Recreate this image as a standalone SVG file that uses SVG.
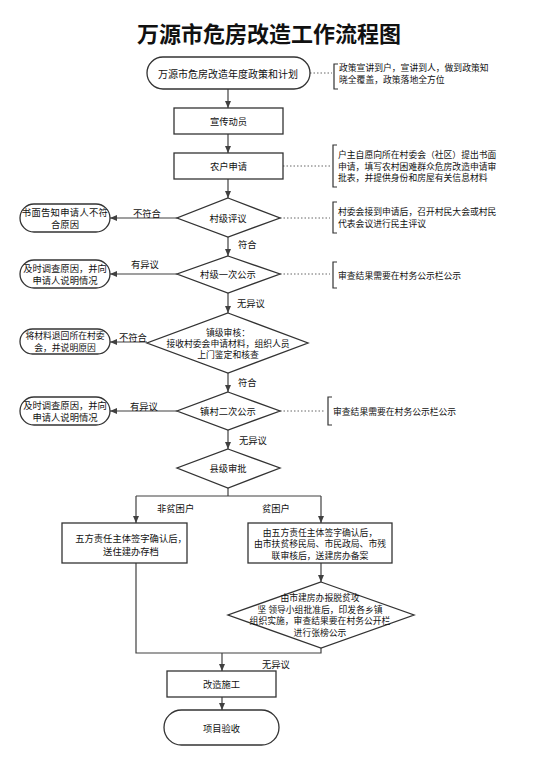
<svg xmlns="http://www.w3.org/2000/svg" width="538" height="761" viewBox="0 0 538 761">
<defs>
<marker id="arr" markerUnits="userSpaceOnUse" markerWidth="7" markerHeight="6" viewBox="0 0 7 6" refX="7" refY="3" orient="auto"><path d="M0,0 L7,3 L0,6 z" fill="#404040"/></marker>
<style>
text{font-family:"Noto Sans CJK SC","Noto Sans",sans-serif;fill:#111;dominant-baseline:central}
.t{font-size:9.3px;text-anchor:middle}
.m{font-size:8.8px;text-anchor:middle}
.n{font-size:8.8px}
.l{font-size:9.3px}
.shape{fill:#fff;stroke:#333;stroke-width:1.3}
.c{fill:none;stroke:#404040;stroke-width:1.2}
.d{fill:none;stroke:#666;stroke-width:1;stroke-dasharray:1.5,2}
.b{fill:none;stroke:#333;stroke-width:1.2}
</style>
</defs>
<rect width="538" height="761" fill="#fff"/>
<text x="269" y="32" style="font-size:22px;font-weight:bold;text-anchor:middle">万源市危房改造工作流程图</text>

<g id="connectors">
<line class="c" x1="228" y1="89" x2="228" y2="108" marker-end="url(#arr)"/>
<line class="c" x1="228" y1="134" x2="228" y2="153" marker-end="url(#arr)"/>
<line class="c" x1="228" y1="179" x2="228" y2="198" marker-end="url(#arr)"/>
<line class="c" x1="228" y1="237" x2="228" y2="256" marker-end="url(#arr)"/>
<line class="c" x1="228" y1="293" x2="228" y2="313" marker-end="url(#arr)"/>
<line class="c" x1="228" y1="373" x2="228" y2="392" marker-end="url(#arr)"/>
<line class="c" x1="228" y1="430" x2="228" y2="449" marker-end="url(#arr)"/>
<polyline class="c" points="228,488 228,496"/>
<line class="c" x1="136" y1="496" x2="321" y2="496"/>
<line class="c" x1="136" y1="496" x2="136" y2="523" marker-end="url(#arr)"/>
<line class="c" x1="321" y1="496" x2="321" y2="523" marker-end="url(#arr)"/>
<line class="c" x1="321" y1="563" x2="321" y2="582" marker-end="url(#arr)"/>
<polyline class="c" points="136,563 136,653 321,653 321,648"/>
<line class="c" x1="222" y1="653" x2="222" y2="671" marker-end="url(#arr)"/>
<line class="c" x1="222" y1="697" x2="222" y2="710" marker-end="url(#arr)"/>
<line class="c" x1="177" y1="218" x2="110" y2="218" marker-end="url(#arr)"/>
<line class="c" x1="177" y1="274" x2="110" y2="274" marker-end="url(#arr)"/>
<line class="c" x1="147" y1="342" x2="110" y2="342" marker-end="url(#arr)"/>
<line class="c" x1="177" y1="411" x2="110" y2="411" marker-end="url(#arr)"/>
<line class="d" x1="310" y1="73" x2="332" y2="73"/>
<line class="d" x1="283" y1="166" x2="330" y2="166"/>
<line class="d" x1="280" y1="218" x2="330" y2="218"/>
<line class="d" x1="280" y1="274" x2="330" y2="274"/>
<line class="d" x1="280" y1="411" x2="325" y2="411"/>
<text class="l" x="238" y="244">符合</text>
<text class="l" x="237" y="303">无异议</text>
<text class="l" x="238" y="382">符合</text>
<text class="l" x="239" y="440">无异议</text>
<text class="l" x="133" y="213">不符合</text>
<text class="l" x="131" y="264">有异议</text>
<text class="l" x="119" y="337">不符合</text>
<text class="l" x="130" y="406">有异议</text>
<text class="l" x="157" y="508">非贫困户</text>
<text class="l" x="262" y="508">贫困户</text>
<text class="l" x="262" y="664">无异议</text>
</g>

<g id="n-start"><rect class="shape" x="147" y="57" width="163" height="32" rx="16"/><text class="t" style="font-size:10px" x="228" y="73">万源市危房改造年度政策和计划</text></g>
<g id="note1"><path class="b" d="M338,64 H334 V89 H338"/><text class="n" x="339" y="67">政策宣讲到户，宣讲到人，做到政策知</text><text class="n" x="339" y="79">晓全覆盖，政策落地全方位</text></g>
<g id="n-xc"><rect class="shape" x="174" y="108" width="109" height="26"/><text class="t" x="228.5" y="121">宣传动员</text></g>
<g id="n-sq"><rect class="shape" x="174" y="153" width="109" height="26"/><text class="t" x="228.5" y="166">农户申请</text></g>
<g id="note2"><path class="b" d="M337,145 H333 V187 H337"/><text class="n" x="338" y="154.5">户主自愿向所在村委会（社区）提出书面</text><text class="n" x="338" y="166">申请，填写农村困难群众危房改造申请审</text><text class="n" x="338" y="177.5">批表，并提供身份和房屋有关信息材料</text></g>
<g id="n-py"><polygon class="shape" points="228,198 280,218 228,237 177,218"/><text class="t" x="228" y="218">村级评议</text></g>
<g id="note3"><path class="b" d="M337,202 H333 V233 H337"/><text class="n" x="338" y="211.5">村委会接到申请后，召开村民大会或村民</text><text class="n" x="338" y="223.5">代表会议进行民主评议</text></g>
<g id="r1"><rect class="shape" x="20" y="204" width="90" height="28" rx="14"/><text class="t" x="65" y="212" letter-spacing="0.3">书面告知申请人不符</text><text class="t" x="65" y="224">合原因</text></g>
<g id="n-gs1"><polygon class="shape" points="228,256 280,274 228,293 177,274"/><text class="t" x="228" y="274">村级一次公示</text></g>
<g id="note4"><path class="b" d="M337,262 H333 V288 H337"/><text class="n" x="338" y="275">审查结果需要在村务公示栏公示</text></g>
<g id="r2"><rect class="shape" x="20" y="260" width="90" height="28" rx="14"/><text class="t" x="65" y="268">及时调查原因，并向</text><text class="t" x="65" y="280">申请人说明情况</text></g>
<g id="n-zj"><polygon class="shape" points="228,313 308,343 228,373 147,343"/><text class="m" x="228" y="332">镇级审核：</text><text class="m" x="228" y="343">接收村委会申请材料，组织人员</text><text class="m" x="228" y="354">上门鉴定和核查</text></g>
<g id="r3"><rect class="shape" x="20" y="329" width="90" height="25" rx="12.5"/><text class="m" x="65" y="335.5">将材料退回所在村委</text><text class="m" x="65" y="347">会，并说明原因</text></g>
<g id="n-gs2"><polygon class="shape" points="228,392 280,411 228,430 177,411"/><text class="t" x="228" y="411">镇村二次公示</text></g>
<g id="note5"><path class="b" d="M332,397 H328 V425 H332"/><text class="n" x="333" y="411">审查结果需要在村务公示栏公示</text></g>
<g id="r4"><rect class="shape" x="20" y="397" width="90" height="28" rx="14"/><text class="t" x="65" y="405">及时调查原因，并向</text><text class="t" x="65" y="417">申请人说明情况</text></g>
<g id="n-xj"><polygon class="shape" points="228,449 280,468 228,488 177,468"/><text class="t" x="228" y="468">县级审批</text></g>
<g id="n-fp"><rect class="shape" x="62" y="523" width="125" height="40"/><text class="t" x="131" y="538">五方责任主体签字确认后，</text><text class="t" x="131" y="551">送住建办存档</text></g>
<g id="n-p"><rect class="shape" x="248" y="523" width="144" height="40"/><text class="m" x="320" y="532">由五方责任主体签字确认后，</text><text class="m" x="320" y="543.5">由市扶贫移民局、市民政局、市残</text><text class="m" x="320" y="555">联审核后，送建房办备案</text></g>
<g id="n-jf"><polygon class="shape" points="321,582 414,615 321,648 228,615"/><text class="m" x="320" y="597.5">由市建房办报脱贫攻</text><text class="m" x="320" y="609">坚 领导小组批准后，印发各乡镇</text><text class="m" x="320" y="620.5">组织实施，审查结果要在村务公开栏</text><text class="m" x="320" y="632">进行张榜公示</text></g>
<g id="n-sg"><rect class="shape" x="167" y="671" width="109" height="26"/><text class="t" x="221.5" y="684">改造施工</text></g>
<g id="n-ys"><rect class="shape" x="164" y="710" width="115" height="35" rx="17.5"/><text class="t" x="221.5" y="727.5">项目验收</text></g>
</svg>
